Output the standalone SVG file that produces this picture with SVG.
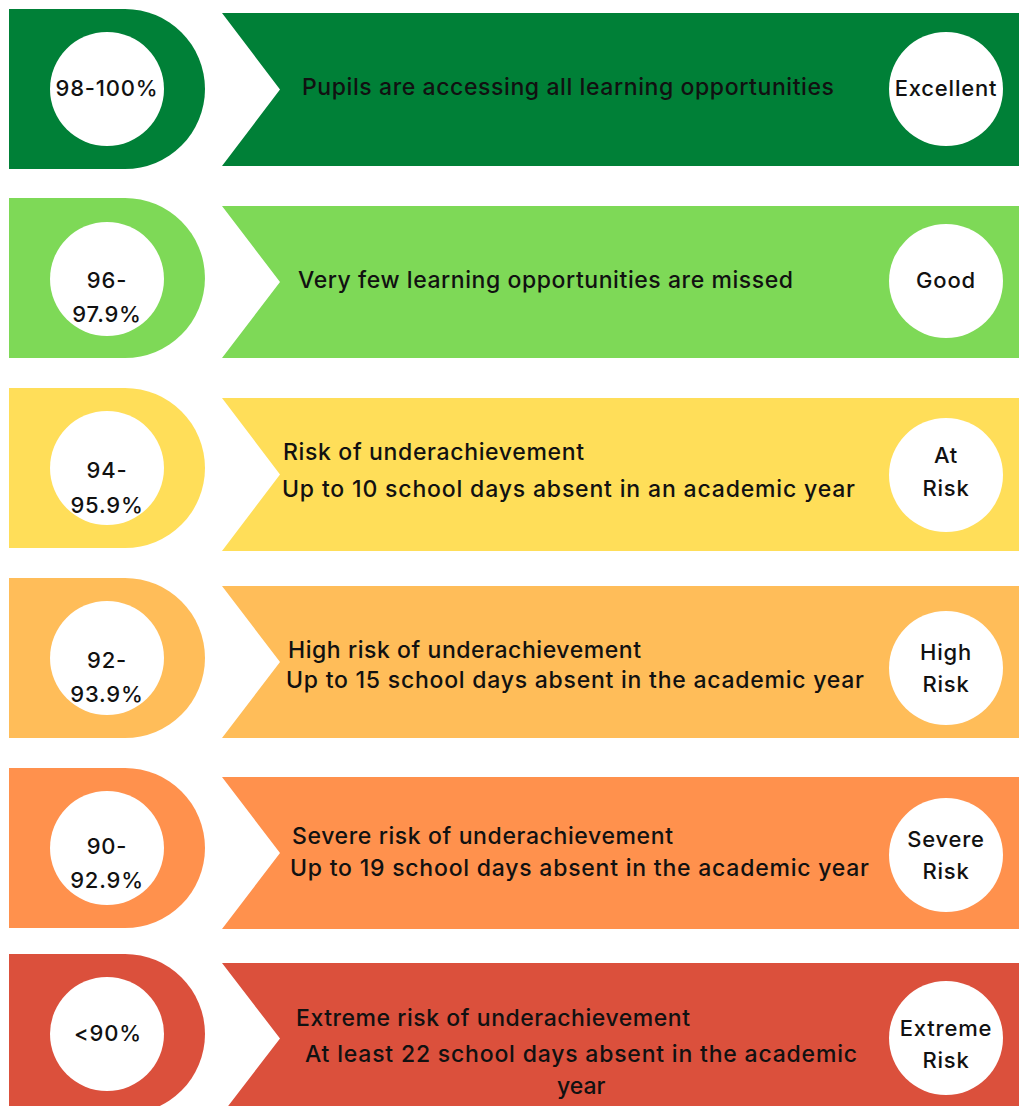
<svg xmlns="http://www.w3.org/2000/svg" width="1019" height="1106" viewBox="0 0 1019 1106">
  <style>
    .bg { fill: #ffffff; }
    .disc { fill: #ffffff; }
    .t { font-family: Inter, "Open Sans", "Liberation Sans", sans-serif; font-size: 23px; font-weight: 500; fill: #111111; }
    .c { font-size: 22px; text-anchor: middle; letter-spacing: 0.8px; }
    .excellent { fill: #008037; }
    .good { fill: #7ed957; }
    .atrisk { fill: #ffde59; }
    .high { fill: #ffbd59; }
    .severe { fill: #ff914d; }
    .extreme { fill: #db503c; }
  </style>
  <rect class="bg" x="0" y="0" width="1019" height="1106"/>

  <!-- Band 1: Excellent -->
  <g id="band-excellent" class="excellent">
    <path d="M9,9 H125 A80,80 0 0 1 125,169 H9 Z"/>
    <path d="M222,13 H1019 V166 H222 L280,89.5 Z"/>
    <circle class="disc" cx="107" cy="89" r="57"/>
    <circle class="disc" cx="946" cy="89" r="57"/>
    <text class="t c" x="107" y="96">98-100%</text>
    <text class="t" x="302" y="95" textLength="532" lengthAdjust="spacing">Pupils are accessing all learning opportunities</text>
    <text class="t c" x="946" y="96">Excellent</text>
  </g>

  <!-- Band 2: Good -->
  <g id="band-good" class="good">
    <path d="M9,198 H125 A80,80 0 0 1 125,358 H9 Z"/>
    <path d="M222,206 H1019 V358 H222 L280,282 Z"/>
    <circle class="disc" cx="107" cy="279" r="57"/>
    <circle class="disc" cx="946" cy="281" r="57"/>
    <text class="t c" x="107" y="288">96-</text>
    <text class="t c" x="107" y="322">97.9%</text>
    <text class="t" x="298" y="288" textLength="495" lengthAdjust="spacing">Very few learning opportunities are missed</text>
    <text class="t c" x="946" y="288">Good</text>
  </g>

  <!-- Band 3: At Risk -->
  <g id="band-at-risk" class="atrisk">
    <path d="M9,388 H125 A80,80 0 0 1 125,548 H9 Z"/>
    <path d="M222,398 H1019 V551 H222 L280,474.5 Z"/>
    <circle class="disc" cx="107" cy="468" r="57"/>
    <circle class="disc" cx="946" cy="475" r="57"/>
    <text class="t c" x="107" y="478">94-</text>
    <text class="t c" x="107" y="513">95.9%</text>
    <text class="t" x="283" y="460" textLength="301" lengthAdjust="spacing">Risk of underachievement</text>
    <text class="t" x="282" y="497" textLength="573" lengthAdjust="spacing">Up to 10 school days absent in an academic year</text>
    <text class="t c" x="946" y="463">At</text>
    <text class="t c" x="946" y="496">Risk</text>
  </g>

  <!-- Band 4: High Risk -->
  <g id="band-high-risk" class="high">
    <path d="M9,578 H125 A80,80 0 0 1 125,738 H9 Z"/>
    <path d="M222,586 H1019 V738 H222 L280,662 Z"/>
    <circle class="disc" cx="107" cy="658" r="57"/>
    <circle class="disc" cx="946" cy="668" r="57"/>
    <text class="t c" x="107" y="668">92-</text>
    <text class="t c" x="107" y="702">93.9%</text>
    <text class="t" x="288" y="658" textLength="353" lengthAdjust="spacing">High risk of underachievement</text>
    <text class="t" x="286" y="688" textLength="578" lengthAdjust="spacing">Up to 15 school days absent in the academic year</text>
    <text class="t c" x="946" y="660">High</text>
    <text class="t c" x="946" y="692">Risk</text>
  </g>

  <!-- Band 5: Severe Risk -->
  <g id="band-severe-risk" class="severe">
    <path d="M9,768 H125 A80,80 0 0 1 125,928 H9 Z"/>
    <path d="M222,777 H1019 V929 H222 L280,853 Z"/>
    <circle class="disc" cx="107" cy="848" r="57"/>
    <circle class="disc" cx="946" cy="855" r="57"/>
    <text class="t c" x="107" y="854">90-</text>
    <text class="t c" x="107" y="888">92.9%</text>
    <text class="t" x="292" y="844" textLength="381" lengthAdjust="spacing">Severe risk of underachievement</text>
    <text class="t" x="290" y="876" textLength="579" lengthAdjust="spacing">Up to 19 school days absent in the academic year</text>
    <text class="t c" x="946" y="847">Severe</text>
    <text class="t c" x="946" y="879">Risk</text>
  </g>

  <!-- Band 6: Extreme Risk -->
  <g id="band-extreme-risk" class="extreme">
    <path d="M9,954 H125 A80,80 0 0 1 125,1114 H9 Z"/>
    <path d="M222,963 H1019 V1114 H222 L280,1038.5 Z"/>
    <circle class="disc" cx="107" cy="1034" r="57"/>
    <circle class="disc" cx="946" cy="1038" r="57"/>
    <text class="t c" x="108" y="1041">&lt;90%</text>
    <text class="t" x="296" y="1026" textLength="394" lengthAdjust="spacing">Extreme risk of underachievement</text>
    <text class="t" x="305" y="1062" textLength="552" lengthAdjust="spacing">At least 22 school days absent in the academic</text>
    <text class="t" x="557" y="1094">year</text>
    <text class="t c" x="946" y="1036">Extreme</text>
    <text class="t c" x="946" y="1068">Risk</text>
  </g>
</svg>
